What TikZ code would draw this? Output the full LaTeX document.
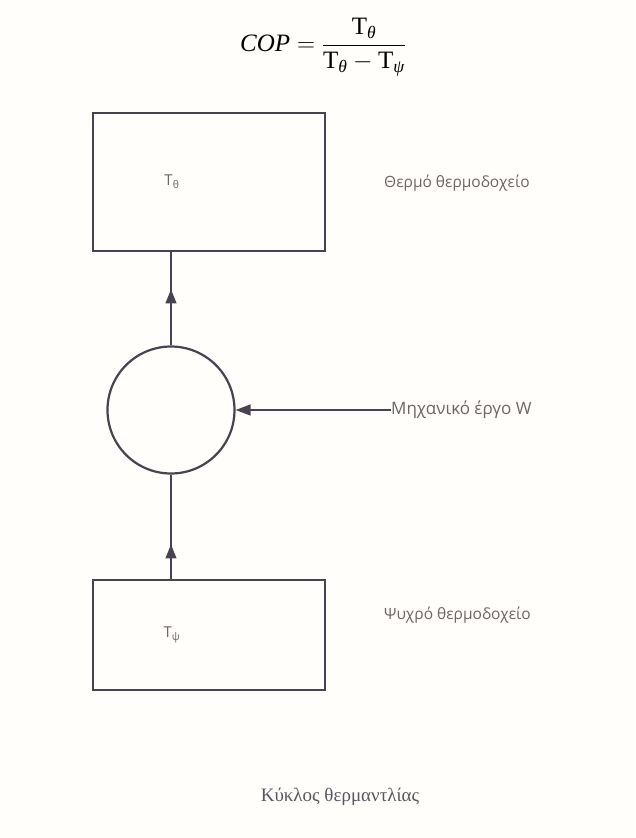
\documentclass[tikz,border=0pt]{standalone}
\usepackage{fix-cm}
\usepackage{amsmath}
\usepackage{fontspec}
\setmainfont{Liberation Serif}
\newfontfamily\lblfont{Open Sans}
\usetikzlibrary{arrows.meta,decorations.markings}
\definecolor{ink}{HTML}{4A4250}
\definecolor{txt}{HTML}{6E6368}
\definecolor{paper}{HTML}{FFFEFA}
\begin{document}
\begin{tikzpicture}[x=1pt,y=-1pt,
 box/.style={draw=ink,line width=2.2pt,minimum width=232pt,minimum height=138pt,inner sep=0pt},
 engine/.style={draw=ink,line width=2.2pt,circle,minimum size=127pt,inner sep=0pt},
 lbl/.style={text=txt,font=\lblfont\fontsize{15.5}{18}\selectfont,inner sep=0pt},
 temp/.style={text=txt,font=\lblfont\fontsize{15}{17}\selectfont,inner sep=0pt},
 flow/.style={draw=ink,line width=1.4pt,postaction={decorate},
   decoration={markings,mark=at position #1 with {\arrow{Triangle[length=14pt,width=11pt]}}}},
 wline/.style={draw=ink,line width=1.4pt,-{Triangle[length=15pt,width=11pt]}},
]
\fill[paper] (0,0) rectangle (635,838);
\useasboundingbox (0,0) rectangle (635,838);

\node[inner sep=0pt] (cop) at (323,47) {\fontsize{25}{29}\selectfont
  $\textit{COP}=\dfrac{\text{T}_{\textit{θ}}}{\text{T}_{\textit{θ}}-\text{T}_{\textit{ψ}}}$};

\node[box] (hot) at (209,182) {};
\node[temp] (Th) at (172,182) {T\textsubscript{θ}};
\node[lbl,anchor=west] (hl) at (384,183) {Θερμό θερμοδοχείο};

\node[engine] (eng) at (171,410) {};
\node[lbl,anchor=west,font=\lblfont\fontsize{17}{20}\selectfont] (wl) at (391,410) {Μηχανικό έργο W};

\node[box,minimum height=110pt] (cold) at (209,635) {};
\node[temp] (Tc) at (172,635) {T\textsubscript{ψ}};
\node[lbl,anchor=west] (cl) at (384,615) {Ψυχρό θερμοδοχείο};

\node[inner sep=0pt,text=ink!90] (cap) at (340,797) {\fontsize{19}{22}\selectfont Κύκλος θερμαντλίας};

\draw[flow=0.6] (eng.north) -- (eng.north |- hot.south);
\draw[flow=0.33] (eng.south |- cold.north) -- (eng.south);
\draw[wline] (eng.east -| wl.west) -- (eng.east);
\end{tikzpicture}
\end{document}
